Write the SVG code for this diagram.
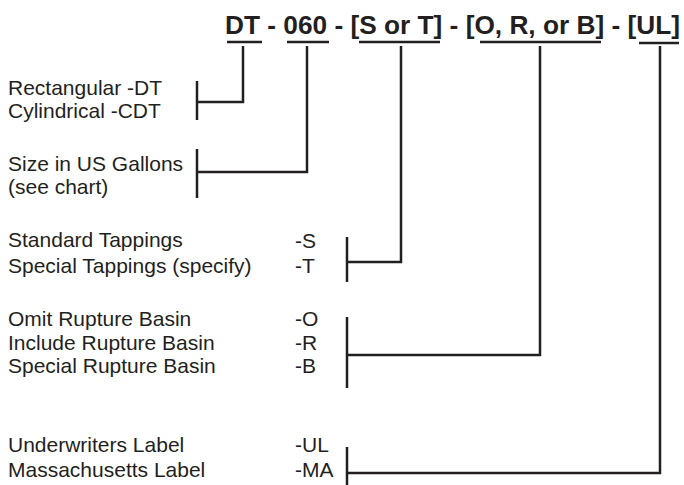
<svg xmlns="http://www.w3.org/2000/svg" width="684" height="485" viewBox="0 0 684 485">
<style>
text{font-family:"Liberation Sans",Arial,sans-serif;fill:#231f20}
.t{font-size:26px;font-weight:bold}
.l{font-size:21px}
.c path,.u line{stroke:#231f20;stroke-width:2.5;fill:none}
</style>
<rect width="684" height="485" fill="#fff"/>
<g id="title">
<text class="t" x="225" y="34" textLength="455" lengthAdjust="spacingAndGlyphs">DT - 060 - [S or T] - [O, R, or B] - [UL]</text>
<g class="u">
<line x1="227" y1="42" x2="262" y2="42"/>
<line x1="287" y1="42" x2="329" y2="42"/>
<line x1="359" y1="42" x2="440" y2="42"/>
<line x1="480" y1="42" x2="601" y2="42"/>
<line x1="639" y1="43" x2="679" y2="43"/>
</g>
</g>
<g id="shape">
<text class="l" x="8" y="95">Rectangular -DT</text>
<text class="l" x="8" y="118">Cylindrical -CDT</text>
</g>
<g id="size">
<text class="l" x="8" y="171">Size in US Gallons</text>
<text class="l" x="8" y="194">(see chart)</text>
</g>
<g id="tappings">
<text class="l" x="8" y="247">Standard Tappings</text>
<text class="l" x="295" y="248">-S</text>
<text class="l" x="8" y="273">Special Tappings (specify)</text>
<text class="l" x="295" y="273">-T</text>
</g>
<g id="basin">
<text class="l" x="8" y="326">Omit Rupture Basin</text>
<text class="l" x="295" y="326">-O</text>
<text class="l" x="8" y="350">Include Rupture Basin</text>
<text class="l" x="295" y="350">-R</text>
<text class="l" x="8" y="373">Special Rupture Basin</text>
<text class="l" x="295" y="373">-B</text>
</g>
<g id="label">
<text class="l" x="8" y="452">Underwriters Label</text>
<text class="l" x="295" y="452">-UL</text>
<text class="l" x="8" y="477">Massachusetts Label</text>
<text class="l" x="295" y="477">-MA</text>
</g>
<g id="connectors" class="c">
<path d="M243 46V102H197M197 81V120"/>
<path d="M307 46V172H197M197 149V198"/>
<path d="M401 46V262H347M347 237V282"/>
<path d="M540 46V355H347M347 317V388"/>
<path d="M660 46V473H347M347 447V485"/>
</g>
</svg>
